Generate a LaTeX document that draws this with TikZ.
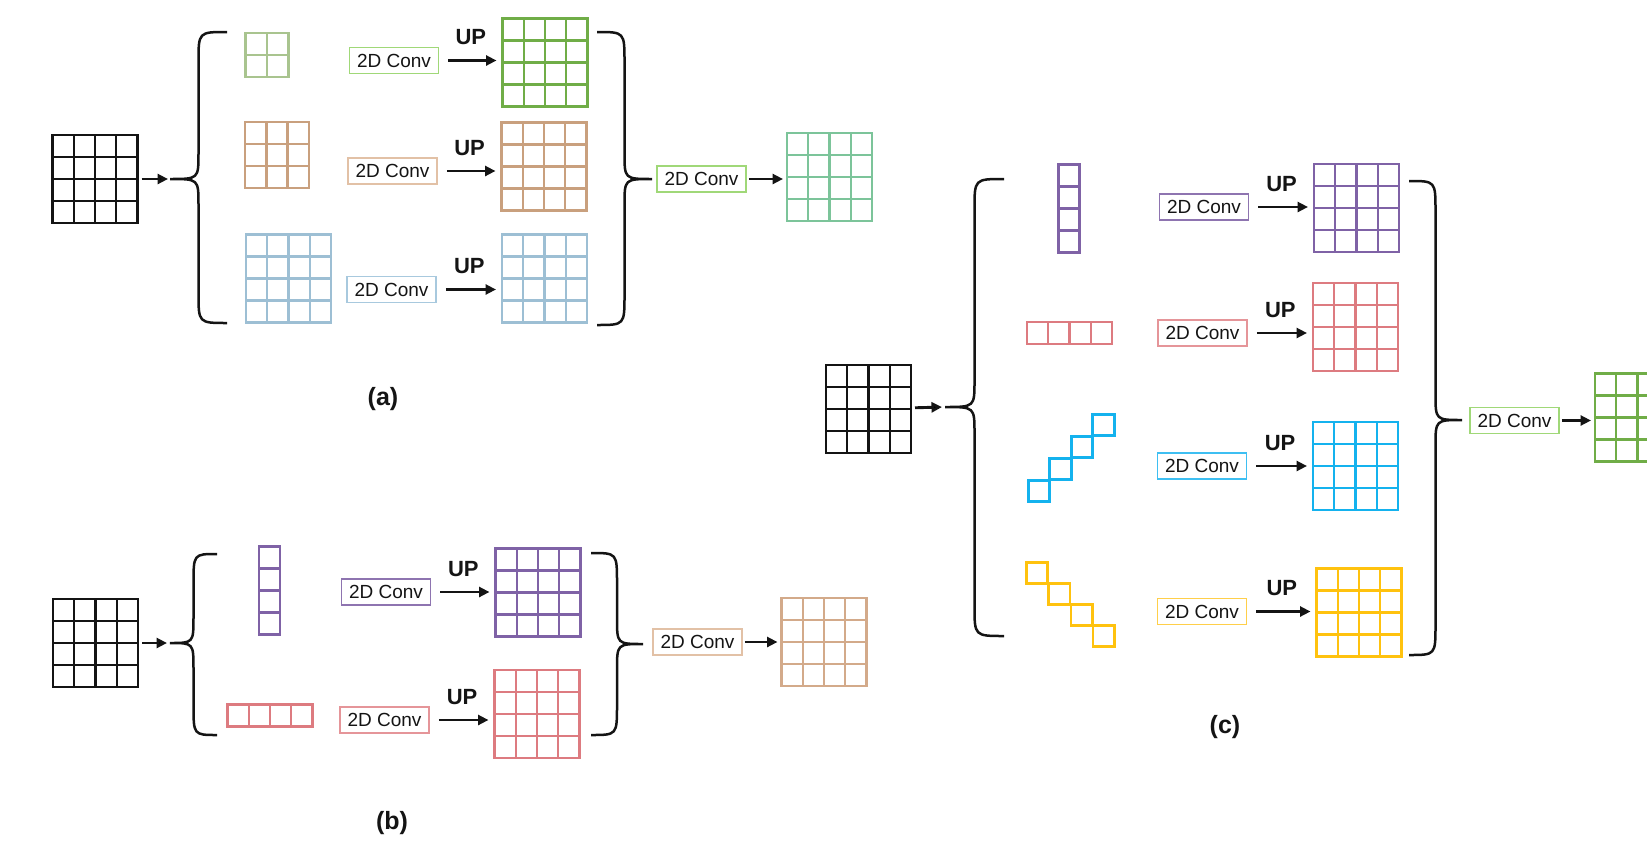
\documentclass[tikz,border=0pt]{standalone}
\usepackage{fontspec}
\setmainfont{Liberation Sans}
\usepackage{tikz}
\usetikzlibrary{calc,arrows.meta,positioning}

\definecolor{ink}{HTML}{141414}
\definecolor{cSage}{HTML}{A9C48F}
\definecolor{cLeaf}{HTML}{70AD47}
\definecolor{cLimeBox}{HTML}{A0D878}
\definecolor{cTan}{HTML}{C9A07E}
\definecolor{cTanOut}{HTML}{D3AA8A}
\definecolor{cTanBox}{HTML}{E2C1A6}
\definecolor{cBlue}{HTML}{9DBFD4}
\definecolor{cBlueBox}{HTML}{A8C9DE}
\definecolor{cMint}{HTML}{7CC49A}
\definecolor{cPurple}{HTML}{7F62A6}
\definecolor{cPurpleBox}{HTML}{8E74B0}
\definecolor{cRed}{HTML}{DD7B80}
\definecolor{cRedBox}{HTML}{E59599}
\definecolor{cCyan}{HTML}{14B2EE}
\definecolor{cCyanBox}{HTML}{3EBFF2}
\definecolor{cYellow}{HTML}{FFC20E}
\definecolor{cYellowBox}{HTML}{FFCF4A}

\tikzset{
    fmap/.style={
    rectangle,inner sep=0pt,outer sep=0pt,line width=2.6pt
    },
    gline/.style={
    line width=2.4pt
    },
    cell/.style={
    rectangle,draw,inner sep=0pt,outer sep=0pt,line width=2.6pt,minimum width=21.5pt,minimum height=21.5pt
    },
    conv/.style={
    rectangle,draw,line width=1.5pt,inner sep=0pt,minimum width=89pt,minimum height=26pt,text=ink,font=\fontsize{19}{19}\selectfont
    },
    uplbl/.style={
    font=\bfseries\fontsize{22}{22}\selectfont,text=ink,inner sep=2pt
    },
    sublbl/.style={
    font=\bfseries\fontsize{25}{25}\selectfont,text=ink
    },
    arr/.style={
    draw=ink,line width=2.9pt,-{Triangle[length=10.5pt,width=10pt]}
    },
    brc/.style={
    draw=ink,line width=2.5pt
    },
}

% feature map: name, colour, x, y, columns, rows
\newcommand{\fmap}[6]{%
  \node[fmap,draw=#2,minimum width=#5*21.25pt,minimum height=#6*22pt] (#1) at (#3,#4) {};
  \foreach \k in {1,2,3}{%
    \ifnum\k<#5 \draw[gline,#2] ($(#1.north west)!\k/#5!(#1.north east)$) -- ($(#1.south west)!\k/#5!(#1.south east)$);\fi
    \ifnum\k<#6 \draw[gline,#2] ($(#1.north west)!\k/#6!(#1.south west)$) -- ($(#1.north east)!\k/#6!(#1.south east)$);\fi
  }}

% curly brace: end x, tip x, top y, tip y, bottom y
\newcommand{\curly}[5]{%
  \pgfmathsetmacro{\brcx}{(#1+#2)/2}%
  \draw[brc] (#1,#3) .. controls (\brcx,#3) .. (\brcx,#3+30) -- (\brcx,#4-26)
    .. controls (\brcx,#4) .. (#2,#4) .. controls (\brcx,#4) .. (\brcx,#4+26)
    -- (\brcx,#5-30) .. controls (\brcx,#5) .. (#1,#5);}

\begin{document}
\begin{tikzpicture}[x=1pt,y=-1pt]
  \clip (0,0) rectangle (1647,841);

  % (a)
  \fmap{ina}{ink}{95}{179}{4}{4}
  \coordinate (ta) at (170,179);
  \curly{227}{170}{32}{179}{323}
  \fmap{ka1}{cSage}{267}{55}{2}{2}
  \fmap{ka2}{cTan}{277}{155}{3}{3}
  \fmap{ka3}{cBlue}{288.5}{278.5}{4}{4}
  \node[conv,draw=cLimeBox] (ca1) at (394,60.5) {2D Conv};
  \node[conv,draw=cTanBox] (ca2) at (392.5,171) {2D Conv};
  \node[conv,draw=cBlueBox] (ca3) at (391.5,289.5) {2D Conv};
  \fmap{oa1}{cLeaf}{545}{62.5}{4}{4}
  \fmap{oa2}{cTan}{544}{166.5}{4}{4}
  \fmap{oa3}{cBlue}{544.5}{278.5}{4}{4}
  \curly{597}{652}{32}{179}{325}
  \node[conv,draw=cLimeBox] (fa) at (701.5,179) {2D Conv};
  \fmap{ya}{cMint}{829.5}{177}{4}{4}
  \node[sublbl] (la) at (383,399) {(a)};

  % (b)
  \fmap{inb}{ink}{95.5}{643}{4}{4}
  \coordinate (tb) at (169,643);
  \curly{217}{170}{554}{643}{735}
  \fmap{kb1}{cPurple}{269.5}{590.5}{1}{4}
  \fmap{kb2}{cRed}{270}{715.5}{4}{1}
  \node[conv,draw=cPurpleBox] (cb1) at (386,592) {2D Conv};
  \node[conv,draw=cRedBox] (cb2) at (384.5,720) {2D Conv};
  \fmap{ob1}{cPurple}{538}{592.5}{4}{4}
  \fmap{ob2}{cRed}{537}{714}{4}{4}
  \curly{591}{643}{553}{644}{735}
  \node[conv,draw=cTanBox] (fb) at (697.5,642) {2D Conv};
  \fmap{yb}{cTanOut}{824}{642}{4}{4}
  \node[sublbl] (lb) at (392,823) {(b)};

  % (c)
  \fmap{inc}{ink}{868.5}{409}{4}{4}
  \coordinate (tc) at (944,407);
  \curly{1004}{945}{179}{407}{636}
  \fmap{kc1}{cPurple}{1069}{208.5}{1}{4}
  \fmap{kc2}{cRed}{1069.5}{333}{4}{1}
  \foreach \i in {0,...,3}{
    \node[cell,draw=cCyan] (dc\i) at ({1039+21.5*\i},{491-22*\i}) {};
    \node[cell,draw=cYellow] (ec\i) at ({1037+22.3*\i},{573+21*\i}) {};
  }
  \node[conv,draw=cPurpleBox] (cc1) at (1204,207) {2D Conv};
  \node[conv,draw=cRedBox] (cc2) at (1202.5,333) {2D Conv};
  \node[conv,draw=cCyanBox] (cc3) at (1202,466) {2D Conv};
  \node[conv,draw=cYellowBox] (cc4) at (1202,611.5) {2D Conv};
  \fmap{oc1}{cPurple}{1356.5}{208}{4}{4}
  \fmap{oc2}{cRed}{1355.5}{327}{4}{4}
  \fmap{oc3}{cCyan}{1355.5}{466}{4}{4}
  \fmap{oc4}{cYellow}{1359}{612.5}{4}{4}
  \curly{1409}{1462}{181}{420}{655}
  \node[conv,draw=cLimeBox] (fc) at (1514.5,420.5) {2D Conv};
  \fmap{yc}{cLeaf}{1637.5}{417.5}{4}{4}
  \node[sublbl] (lc) at (1225,727) {(c)};

  \path[arr,shorten <=4pt,shorten >=2pt]
    (ina) edge (ta)
    (inb) edge (tb)
    (inc) edge (tc);
  \foreach \c/\o in {ca1/oa1,ca2/oa2,ca3/oa3,cb1/ob1,cb2/ob2,cc1/oc1,cc2/oc2,cc3/oc3,cc4/oc4}
    \draw[arr,shorten <=9pt,shorten >=6pt] (\c.east) -- (\c.east -| \o.west)
      node[uplbl,midway,above=12pt] {UP};
  \foreach \f/\y in {fa/ya,fb/yb,fc/yc}
    \draw[arr,shorten <=2pt,shorten >=4pt] (\f.east) -- (\f.east -| \y.west);
\end{tikzpicture}
\end{document}
